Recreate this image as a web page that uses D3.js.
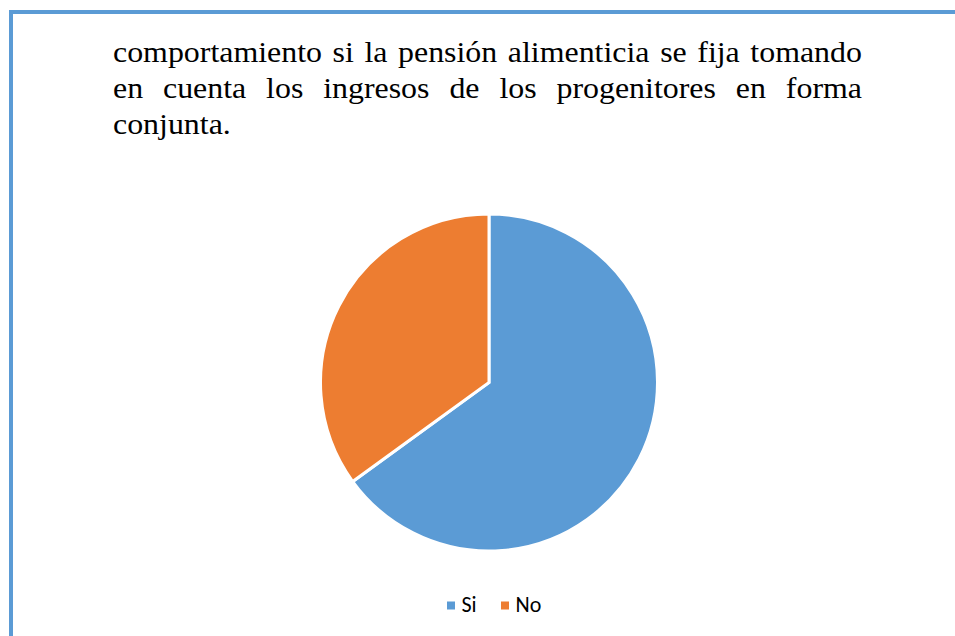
<!DOCTYPE html>
<html>
<head>
<meta charset="utf-8">
<script src="https://cdn.jsdelivr.net/npm/d3@7"></script>
</head>
<body style="margin:0">
<div id="chart"></div>
<script>
// data
const categories = ["Si", "No"];
const values = [65, 35];
const colors = ["#5B9BD5", "#ED7D31"];
const textLines = [
  "comportamiento si la pensión alimenticia se fija tomando",
  "en cuenta los ingresos de los progenitores en forma",
  "conjunta."
];

const width = 955, height = 636;

const svg = d3.select("#chart")
              .append("svg")
              .attr("width", width)
              .attr("height", height);

// blue frame (runs off the right and bottom edges)
svg.append("rect")
   .attr("x", 11)
   .attr("y", 12)
   .attr("width", width + 20)
   .attr("height", height + 20)
   .attr("fill", "none")
   .attr("stroke", "#5B9BD5")
   .attr("stroke-width", 4);

// justified paragraph text (glyphs a bit wider than plain Times, hence sx)
const textLeft = 113, textRight = 862, fontSize = 29, sx = 1.1;
const baselines = [62, 98, 134];

textLines.forEach((line, i) => {
  const words = line.split(" ");
  const y = baselines[i];
  const last = i === textLines.length - 1;
  const nodes = words.map(w => svg.append("text")
                                  .style("font-family", '"Liberation Serif"')
                                  .style("font-size", "29px")
                                  .text(w));
  const widths = nodes.map(n => n.node().getComputedTextLength() * sx);
  const total = d3.sum(widths);
  const gap = last ? fontSize * 0.25
                   : (textRight - textLeft - total) / (words.length - 1);
  let x = textLeft;
  nodes.forEach((n, j) => {
    n.attr("transform", `translate(${x}, ${y}) scale(${sx}, 1)`);
    x += widths[j] + gap;
  });
});

// pie
const cx = 489, cy = 382.5, radius = 168.5;

const pie = d3.pie()
              .sort(null)
              .value(d => d.value);

const arc = d3.arc()
              .innerRadius(0)
              .outerRadius(radius);

const data = categories.map((c, i) => ({ name: c, value: values[i] }));
const color = d3.scaleOrdinal()
                .domain(categories)
                .range(colors);

svg.append("g")
   .attr("transform", `translate(${cx}, ${cy})`)
   .selectAll("path")
   .data(pie(data))
   .join("path")
   .attr("d", arc)
   .attr("fill", d => color(d.data.name))
   .attr("stroke", "#fff")
   .attr("stroke-width", 3)
   .attr("stroke-linejoin", "miter");

// legend
const legendX = [447, 501];
categories.forEach((c, i) => {
  svg.append("rect")
     .attr("x", legendX[i])
     .attr("y", 601.5)
     .attr("width", 8)
     .attr("height", 8)
     .attr("fill", color(c));
  svg.append("text")
     .attr("x", legendX[i] + 14.5)
     .attr("y", 611.5)
     .style("font-family", '"Carlito"')
     .style("font-size", "22px")
     .text(c);
});
</script>
</body>
</html>
